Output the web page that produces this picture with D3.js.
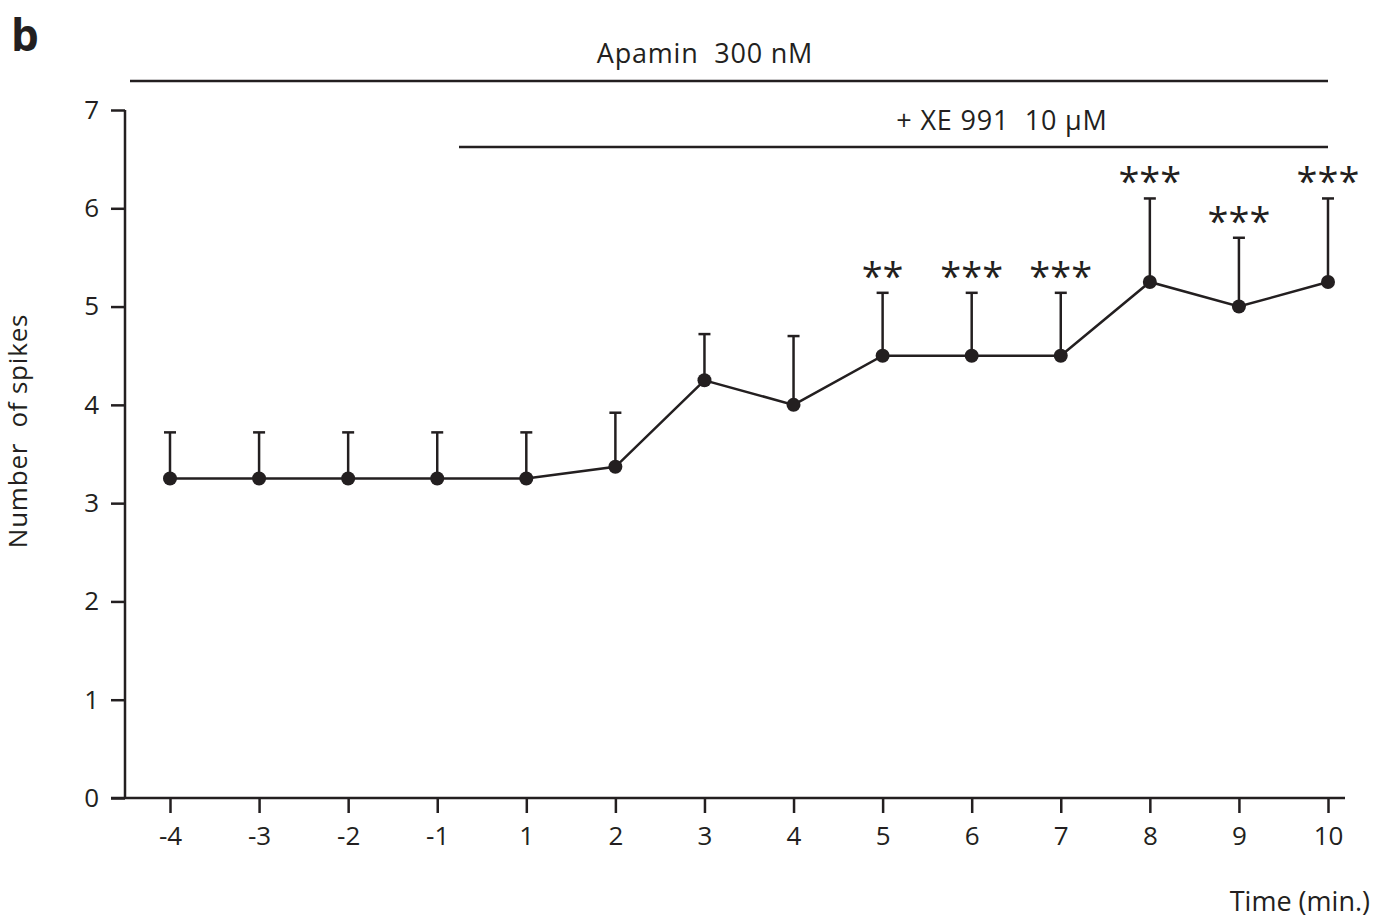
<!DOCTYPE html>
<html>
<head>
<meta charset="utf-8">
<script src="https://cdn.jsdelivr.net/npm/d3@7"></script>
<style>
body{margin:0;background:#fff}
text{font-family:"Open Sans","Noto Sans",sans-serif;fill:#231f20}
</style>
</head>
<body>
<svg id="chart" width="1375" height="919"></svg>
<script>
var times = ['-4','-3','-2','-1','1','2','3','4','5','6','7','8','9','10']
var means = [3.25,3.25,3.25,3.25,3.25,3.37,4.25,4.0,4.5,4.5,4.5,5.25,5.0,5.25]
var errTop = [3.72,3.72,3.72,3.72,3.72,3.92,4.72,4.70,5.14,5.14,5.14,6.1,5.7,6.1]
var stars = ['','','','','','','','','**','***','***','***','***','***']
var yTicks = [0,1,2,3,4,5,6,7]

var ink = '#231f20'
var svg = d3.select('#chart')

var x = d3.scalePoint().domain(times).range([170,1328])
var y = d3.scaleLinear().domain([0,7]).range([798,110])

// axes
var xAxis = svg.append('g').attr('transform','translate(0,798)')
	.call(d3.axisBottom(x).tickSize(15).tickPadding(10))
xAxis.select('.domain').attr('d','M111,0H1345')
var yAxis = svg.append('g').attr('transform','translate(125,0)')
	.call(d3.axisLeft(y).tickValues(yTicks).tickFormat(d3.format('d')).tickSize(14).tickPadding(12))
yAxis.select('.domain').attr('d','M0,110V798')
svg.selectAll('.domain,.tick line').attr('stroke',ink).attr('stroke-width',2.5)
svg.selectAll('.tick text').attr('font-size',26).attr('fill',ink)
	.style('font-family','"Open Sans","Noto Sans",sans-serif')
xAxis.selectAll('.tick text').attr('dy','0.85em')

// error bars
var bars = svg.append('g').attr('id','errbars')
times.forEach((t,i)=>{
	bars.append('line').attr('x1',x(t)).attr('x2',x(t))
		.attr('y1',y(means[i])).attr('y2',y(errTop[i]))
		.attr('stroke',ink).attr('stroke-width',2.5)
	bars.append('line').attr('x1',x(t)-6).attr('x2',x(t)+6)
		.attr('y1',y(errTop[i])).attr('y2',y(errTop[i]))
		.attr('stroke',ink).attr('stroke-width',2.5)
	if (stars[i]) svg.append('text').text(stars[i])
		.attr('x',x(t)).attr('y',y(errTop[i])-3)
		.attr('text-anchor','middle').attr('font-size',38)
})

// mean line + points
svg.append('path').datum(means)
	.attr('fill','none').attr('stroke',ink).attr('stroke-width',2.5)
	.attr('d',d3.line().x((d,i)=>x(times[i])).y(d=>y(d)))
svg.append('g').selectAll('circle').data(means).join('circle')
	.attr('cx',(d,i)=>x(times[i])).attr('cy',d=>y(d)).attr('r',7).attr('fill',ink)

// treatment bars
svg.append('line').attr('x1',130).attr('x2',x('10')).attr('y1',81).attr('y2',81)
	.attr('stroke',ink).attr('stroke-width',2.5)
svg.append('text').text('Apamin  300 nM').attr('x',705).attr('y',63)
	.attr('text-anchor','middle').attr('font-size',27).attr('letter-spacing',0.8).style('white-space','pre')
svg.append('line').attr('x1',459).attr('x2',x('10')).attr('y1',147).attr('y2',147)
	.attr('stroke',ink).attr('stroke-width',2.5)
svg.append('text').text('+ XE 991  10 µM').attr('x',1002).attr('y',130)
	.attr('text-anchor','middle').attr('font-size',27).attr('letter-spacing',0.8).style('white-space','pre')

// labels
svg.append('text').text('b').attr('x',11).attr('y',51)
	.attr('font-size',44).attr('font-weight','bold')
svg.append('text').text('Number  of spikes').style('white-space','pre')
	.attr('transform','translate(27,431) rotate(-90)')
	.attr('text-anchor','middle').attr('font-size',26).attr('letter-spacing',0.8)
svg.append('text').text('Time (min.)').attr('x',1370).attr('y',911)
	.attr('text-anchor','end').attr('font-size',27)
</script>
</body>
</html>
